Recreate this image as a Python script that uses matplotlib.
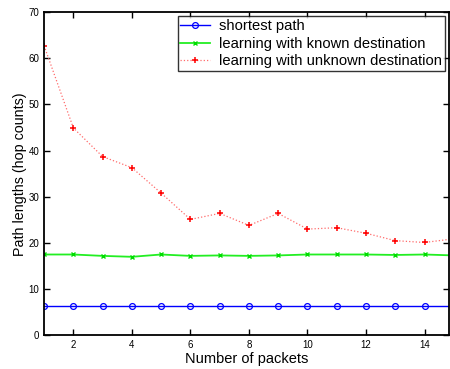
import numpy as np
import matplotlib.pyplot as plt

plt.rcParams['font.family'] = ['Liberation Sans', 'DejaVu Sans']

packets = np.arange(1, 16)
shortest = [6.3] * 15
known_dest = [17.5, 17.5, 17.2, 17.0, 17.5, 17.2, 17.3, 17.2, 17.3, 17.5, 17.5, 17.5, 17.4, 17.5, 17.3]
unknown_dest = [62.7, 44.9, 38.7, 36.3, 30.8, 25.1, 26.4, 23.8, 26.4, 23.0, 23.3, 22.1, 20.5, 20.1, 20.9]

fig = plt.figure(figsize=(4.5, 3.69), dpi=100)
ax = fig.add_axes([0.098, 0.0913, 0.9, 0.876])

ax.plot(packets, shortest, color='#0000ff', lw=1.0, marker='o', ms=4.2,
        mfc='none', mew=0.9, label='shortest path')
ax.plot(packets, known_dest, color='#22ee22', lw=1.3, marker='x', ms=3.5,
        mew=1.0, mec='#00dd00', label='learning with known destination')
ax.plot(packets, unknown_dest, color='#ff6b6b', lw=0.9, ls=':', marker='+',
        ms=5, mew=1.1, mec='#ff0000', label='learning with unknown destination')

ax.set_xlim(1, 14.84)
ax.set_ylim(0, 70)
ax.set_xticks(range(2, 15, 2))
ax.set_yticks(range(0, 71, 10))
ax.tick_params(direction='in', top=True, right=True, labelsize=7, length=4, width=1)
for s in ax.spines.values():
    s.set_linewidth(1.3)

ax.set_xlabel('Number of packets', fontsize=10.5, labelpad=1)
ax.set_ylabel('Path lengths (hop counts)', fontsize=10.3, labelpad=1)

leg = ax.legend(loc='upper right', fontsize=10.6, frameon=True, fancybox=False,
                borderaxespad=0.3, handlelength=2.0, borderpad=0.2,
                labelspacing=0.22, handletextpad=0.6)
leg.get_frame().set_edgecolor('black')
leg.get_frame().set_linewidth(1.0)

fig.savefig('out.png', dpi=100)
